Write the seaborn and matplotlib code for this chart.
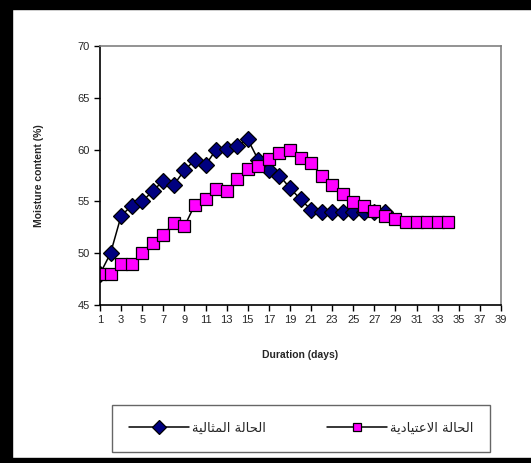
import numpy as np
import pandas as pd
import matplotlib
matplotlib.use('Agg')
import matplotlib.pyplot as plt
from matplotlib.patches import Rectangle
import seaborn as sns


# Data
days_ideal = list(range(1, 29))
moist_ideal = [48, 50, 53.6, 54.6, 55.0, 56.0, 57.0, 56.6, 58.0, 59.0,
               58.5, 60.0, 60.1, 60.3, 61.0, 59.0, 58.0, 57.5, 56.3, 55.2,
               54.2, 54.0, 54.0, 54.0, 54.0, 54.0, 54.0, 54.0]

days_normal = list(range(1, 35))
moist_normal = [48, 48, 49, 49, 50, 51, 51.8, 52.9, 52.6, 54.7,
                55.2, 56.2, 56.0, 57.2, 58.1, 58.4, 59.1, 59.7, 60.0, 59.2,
                58.7, 57.5, 56.6, 55.7, 54.9, 54.6, 54.1, 53.6, 53.3, 53.0,
                53.0, 53.0, 53.0, 53.0]

# Arabic series names, shaped (presentation forms, visual order)
label_ideal = ('\ufe94\ufef4\ufedf\ufe8e\ufe9c\ufee4\ufedf\ufe8d'
               ' \ufe94\ufedf\ufe8e\ufea4\ufedf\ufe8d')      # الحالة المثالية
label_normal = ('\ufe94\ufef3\ufea9\ufe8e\ufef4\ufe98\ufecb\ufefb\ufe8d'
                ' \ufe94\ufedf\ufe8e\ufea4\ufedf\ufe8d')     # الحالة الاعتيادية

x_ticks = list(range(1, 40, 2))
y_ticks = [45, 50, 55, 60, 65, 70]

df_ideal = pd.DataFrame({'day': days_ideal, 'moisture': moist_ideal})
df_normal = pd.DataFrame({'day': days_normal, 'moisture': moist_normal})

sns.set_style('white')
plt.rcParams['font.family'] = ['Liberation Sans', 'DejaVu Sans']

fig = plt.figure(figsize=(5.31, 4.63), dpi=100)
ax = fig.add_axes([100 / 531, 1 - 305 / 463, 401 / 531, 259 / 463])

# Draw lines
sns.lineplot(data=df_ideal, x='day', y='moisture', ax=ax, color='black',
             linewidth=1.1, marker='D', markersize=8.5,
             markerfacecolor='#000080', markeredgecolor='black',
             markeredgewidth=0.9, label=label_ideal)
sns.lineplot(data=df_normal, x='day', y='moisture', ax=ax, color='black',
             linewidth=1.1, marker='s', markersize=8,
             markerfacecolor='#FF00FF', markeredgecolor='black',
             markeredgewidth=0.9, label=label_normal)

# Axes
ax.set_xlim(1, 39)
ax.set_ylim(45, 70)
ax.set_xticks(x_ticks)
ax.set_yticks(y_ticks)
ax.tick_params(axis='both', direction='out', length=4, width=1,
               labelsize=8, color='black', bottom=True, left=True)
for side in ['left', 'bottom']:
    ax.spines[side].set_color('black')
    ax.spines[side].set_linewidth(1.2)
for side in ['top', 'right']:
    ax.spines[side].set_color('#808080')
    ax.spines[side].set_linewidth(1.2)

ax.set_xlabel('Duration (days)', fontsize=7.5, fontweight='bold', labelpad=18)
ax.set_ylabel('Moisture content (%)', fontsize=7.5, fontweight='bold', labelpad=24)

# Legend
leg = ax.legend(loc='center', bbox_to_anchor=((301 - 100) / 401, (305 - 428.5) / 259),
                ncol=2, frameon=True, fancybox=False, edgecolor='#404040',
                prop={'family': 'DejaVu Sans', 'size': 9.5},
                handlelength=4.6, columnspacing=4.6, borderpad=1.3,
                handletextpad=0.2, borderaxespad=0, markerscale=0.8)
leg.get_frame().set_linewidth(1.0)

# Outer black border (left, top, bottom)
fig.patches.append(Rectangle((0, 0), 12 / 531, 1, transform=fig.transFigure,
                             color='black', zorder=0))
fig.patches.append(Rectangle((0, 1 - 9 / 463), 1, 9 / 463, transform=fig.transFigure,
                             color='black', zorder=0))
fig.patches.append(Rectangle((0, 0), 1, 5 / 463, transform=fig.transFigure,
                             color='black', zorder=0))

fig.savefig('out.png', dpi=100)
